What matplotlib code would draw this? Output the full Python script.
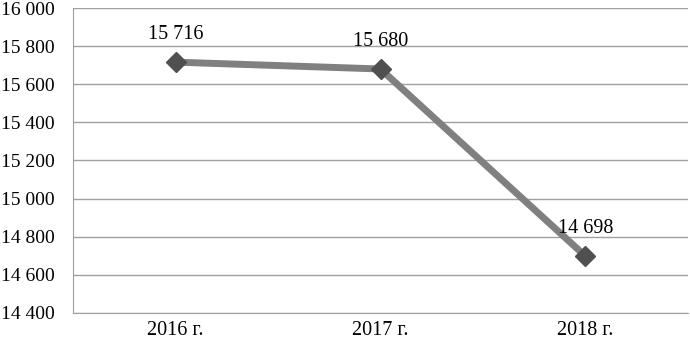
import numpy as np
import matplotlib.pyplot as plt
from matplotlib.ticker import FuncFormatter

years = ['2016 г.', '2017 г.', '2018 г.']
values = [15716, 15680, 14698]

plt.rcParams['font.family'] = ['Liberation Serif', 'DejaVu Serif']

fig = plt.figure(figsize=(6.9, 3.48), dpi=100)
ax = fig.add_axes([0.106, 0.1006, 0.891, 0.8764])

x = np.arange(len(years))
ax.plot(x, values, color='#808080', lw=5, zorder=3,
        marker='D', markersize=10, markerfacecolor='#505050', markeredgecolor='#505050')

def fmt(v):
    return f'{int(round(v)):,}'.replace(',', ' ')

for xi, v in zip(x, values):
    ax.annotate(fmt(v), (xi, v), xytext=(0, 20), textcoords='offset points',
                ha='center', va='center', fontsize=14.5)

ax.set_xlim(-0.5, len(years) - 0.5)
ax.set_ylim(14400, 16000)
ax.set_yticks(np.arange(14400, 16001, 200))
ax.yaxis.set_major_formatter(FuncFormatter(lambda v, p: fmt(v)))
ax.set_xticks(x)
ax.set_xticklabels(years)
ax.tick_params(axis='x', length=0, labelsize=14.5, pad=6)
ax.tick_params(axis='y', length=0, labelsize=14, pad=13)

ax.grid(axis='y', color='#a0a0a0', lw=1)
ax.set_axisbelow(True)
for s in ['top', 'right']:
    ax.spines[s].set_visible(False)
ax.spines['left'].set_color('#a0a0a0')
ax.spines['bottom'].set_color('#a0a0a0')

fig.savefig('out.png', dpi=100)
